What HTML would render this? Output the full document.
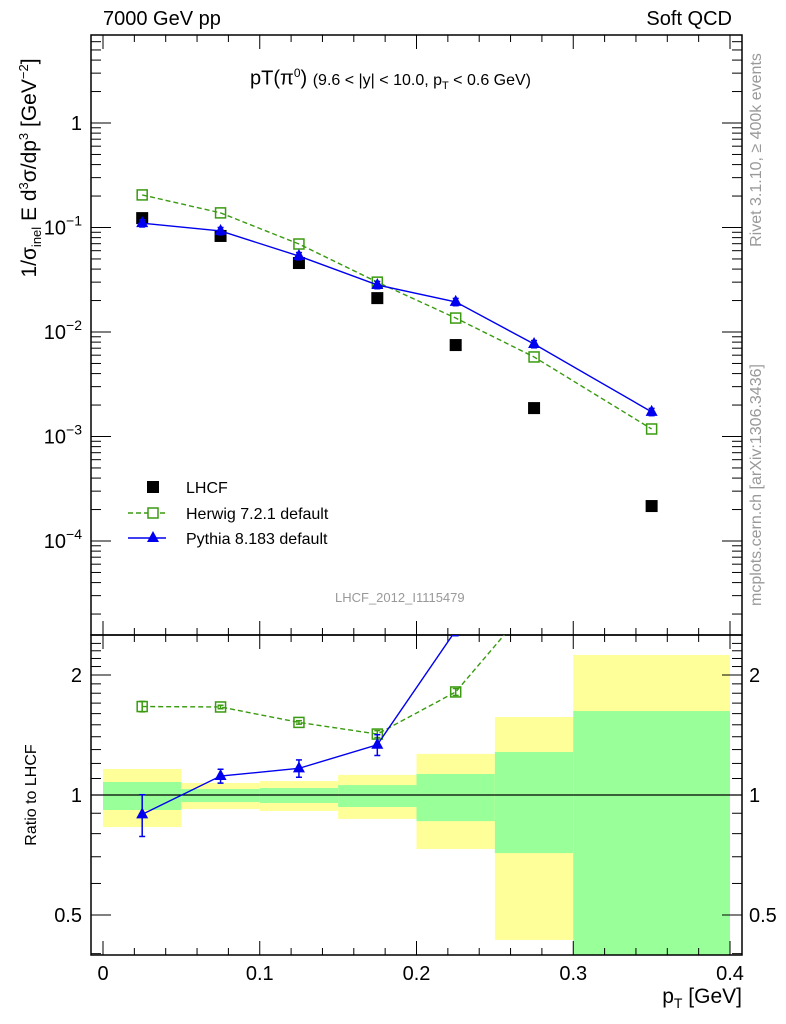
<!DOCTYPE html>
<html><head><meta charset="utf-8"><style>
body{margin:0;background:#fff}
svg{display:block;font-family:"Liberation Sans",sans-serif}
</style></head><body>
<svg id="c" width="786" height="1024" xmlns="http://www.w3.org/2000/svg"></svg>
<script>
const xCenters=[0.025,0.075,0.125,0.175,0.225,0.275,0.35];
const binEdges=[0,0.05,0.1,0.15,0.2,0.25,0.3,0.4];
const lhcf=[0.123,0.083,0.0457,0.0211,0.0075,0.00187,0.000216];
const herwig=[0.205,0.138,0.0695,0.030,0.0136,0.00577,0.00118];
const pythia=[0.110,0.0926,0.0533,0.0282,0.0194,0.00767,0.00172];
const pythiaRelErr=[0.12,0.04,0.05,0.06,0.03,0.08,0.12];
const herwigRelErr=[0.03,0.01,0.01,0.02,0.02,0.02,0.02];
const bandYelHi=[1.162,1.072,1.084,1.123,1.268,1.569,2.245];
const bandYelLo=[0.831,0.922,0.912,0.871,0.732,0.433,0.3];
const bandGrnHi=[1.078,1.035,1.041,1.059,1.129,1.282,1.624];
const bandGrnLo=[0.917,0.960,0.955,0.933,0.860,0.715,0.3];
const xTicks=[0,0.1,0.2,0.3,0.4];
const topDecades=[0,-1,-2,-3,-4];
const ratioTicks=[0.5,1,2];

const NS="http://www.w3.org/2000/svg";
const svg=document.getElementById('c');
function el(t,a,p){const e=document.createElementNS(NS,t);for(const k in a)e.setAttribute(k,a[k]);(p||svg).appendChild(e);return e;}
const L=91,R=742,T1=35,B1=635,B2=955;
const X=v=>103+(v/0.4)*627;
const Y1=v=>123-Math.log10(v)*104.5;
const Y2=v=>795-Math.log10(v)*398.7;
const cl2=v=>Math.max(635,Math.min(955,v));

for(let i=0;i<xCenters.length;i++){
 const r=el('rect',{x:X(binEdges[i]),width:X(binEdges[i+1])-X(binEdges[i]),y:cl2(Y2(bandYelHi[i])),height:cl2(Y2(bandYelLo[i]))-cl2(Y2(bandYelHi[i])),fill:'#ffff99'});
 
 
 const g=el('rect',{x:X(binEdges[i]),width:X(binEdges[i+1])-X(binEdges[i]),y:cl2(Y2(bandGrnHi[i])),height:cl2(Y2(bandGrnLo[i]))-cl2(Y2(bandGrnHi[i])),fill:'#99ff99'});
 
 
}
el('line',{x1:L,x2:R,y1:Y2(1),y2:Y2(1),stroke:'#000','stroke-width':1.3});

const f1=el('rect',{x:L,y:T1,width:R-L,height:B1-T1,fill:'none',stroke:'#000','stroke-width':1.5});

const f2=el('rect',{x:L,y:B1,width:R-L,height:B2-B1,fill:'none',stroke:'#000','stroke-width':1.5});


for(let v=0;v<=0.4001;v+=0.02){
 const maj=Math.abs(v*10-Math.round(v*10))<1e-6;const len=maj?14:7;const x=X(v);
 for(const [t,b] of [[T1,B1],[B1,B2]]){
  el('line',{x1:x,x2:x,y1:b,y2:b-len,stroke:'#000','stroke-width':1});
  el('line',{x1:x,x2:x,y1:t,y2:t+len,stroke:'#000','stroke-width':1});
 }
}
xTicks.forEach(v=>{const t=el('text',{x:X(v),y:980,'font-size':20,'text-anchor':'middle'});t.textContent=String(v);
 });

for(let d=-5;d<=0;d++){for(let m=1;m<10;m++){const v=m*Math.pow(10,d);const y=Y1(v);if(y<T1||y>B1)continue;const len=m==1?20:10;
 el('line',{x1:L,x2:L+len,y1:y,y2:y,stroke:'#000'});el('line',{x1:R,x2:R-len,y1:y,y2:y,stroke:'#000'});}}
topDecades.forEach(d=>{const y=Y1(Math.pow(10,d));const t=el('text',{x:82,y:y+7,'font-size':20,'text-anchor':'end'});
 if(d===0)t.textContent='1';else{t.textContent='10';const s=el('tspan',{dy:-9,'font-size':14},t);s.textContent=String(d).replace('-','−');}
 });

for(let v=0.4;v<=2.5;v+=0.1){const y=Y2(v);if(y<B1||y>B2)continue;const maj=ratioTicks.some(r=>Math.abs(r-v)<1e-6);const len=maj?20:10;
 el('line',{x1:L,x2:L+len,y1:y,y2:y,stroke:'#000'});el('line',{x1:R,x2:R-len,y1:y,y2:y,stroke:'#000'});}
ratioTicks.forEach(v=>{const y=Y2(v)+7;
 const a=el('text',{x:82,y:y,'font-size':20,'text-anchor':'end'});a.textContent=String(v);
 
 const b=el('text',{x:749,y:y,'font-size':20}); b.textContent=String(v);
 });

const defs=el('defs',{});const cp=el('clipPath',{id:'rc'},defs);el('rect',{x:L,y:B1,width:R-L,height:B2-B1},cp);
const ct=el('clipPath',{id:'tc'},defs);el('rect',{x:L,y:T1,width:R-L,height:B1-T1},ct);

function series(vals,color,dash,marker,yf,clip,name,errs){
 const g=el('g',{'clip-path':`url(#${clip})`});
 
 const pts=vals.map((v,i)=>X(xCenters[i])+','+yf(v)).join(' ');
 el('polyline',{points:pts,fill:'none',stroke:color,'stroke-width':1.4,'stroke-dasharray':dash||'none'},g);
 vals.forEach((v,i)=>{const x=X(xCenters[i]),y=yf(v);
  if(errs){const e=errs[i];const y1=yf(v*(1+e)),y2=yf(v*(1-e));
   el('line',{x1:x,x2:x,y1:y1,y2:y2,stroke:color,'stroke-width':1.5},g);
   el('line',{x1:x-3,x2:x+3,y1:y1,y2:y1,stroke:color,'stroke-width':1.5},g);
   el('line',{x1:x-3,x2:x+3,y1:y2,y2:y2,stroke:color,'stroke-width':1.5},g);}
  let m;
  if(marker==='sq')m=el('rect',{x:x-5,y:y-5,width:10,height:10,fill:'#fff','fill-opacity':0,stroke:color,'stroke-width':1.5},g);
  else if(marker==='tri')m=el('polygon',{points:`${x},${y-7} ${x-6},${y+4} ${x+6},${y+4}`,fill:color},g);
  else m=el('rect',{x:x-6,y:y-6,width:12,height:12,fill:color},g);
  
 });
}
(function(){const g=el('g',{'clip-path':'url(#tc)'});
 lhcf.forEach((v,i)=>{const m=el('rect',{x:X(xCenters[i])-6,y:Y1(v)-6,width:12,height:12,fill:'#000'},g);
 });})();
series(herwig,'#3a9a10','5,3','sq',Y1,'tc','herwig-series',null);
series(pythia,'#0000ee',null,'tri',Y1,'tc','pythia-series',pythia.map(()=>0.08));
series(herwig.map((v,i)=>v/lhcf[i]),'#3a9a10','5,3','sq',Y2,'rc','herwig-ratio',herwigRelErr);
series(pythia.map((v,i)=>v/lhcf[i]),'#0000ee',null,'tri',Y2,'rc','pythia-ratio',pythiaRelErr);

const lg=el('g',{});
el('rect',{x:147,y:481,width:12,height:12,fill:'#000'},lg);
el('line',{x1:128,x2:166,y1:513,y2:513,stroke:'#3a9a10','stroke-width':1.4,'stroke-dasharray':'5,3'},lg);
el('rect',{x:148,y:508,width:10,height:10,fill:'#fff',stroke:'#3a9a10','stroke-width':1.5},lg);
el('line',{x1:128,x2:166,y1:538,y2:538,stroke:'#0000ee','stroke-width':1.4},lg);
el('polygon',{points:'153,531 147,542 159,542',fill:'#0000ee'},lg);
[['LHCF',493],['Herwig 7.2.1 default',519],['Pythia 8.183 default',544]].forEach(([s,y])=>{const t=el('text',{x:186,y:y,'font-size':16},lg);t.textContent=s;
 });
</script>
<div style="position:absolute;left:0;top:0;width:786px;height:1024px;pointer-events:none;font-family:'Liberation Sans',sans-serif">
<div style="position:absolute;left:103px;top:8px;font-size:20px">7000 GeV pp</div>
<div style="position:absolute;right:54px;top:8px;font-size:20px">Soft QCD</div>
<div style="position:absolute;left:250px;top:66px;font-size:20px;white-space:nowrap">pT(π<sup style="font-size:12px">0</sup>) <span style="font-size:16px">(9.6 &lt; |y| &lt; 10.0, p<sub style="font-size:11px">T</sub> &lt; 0.6 GeV)</span></div>
<div style="position:absolute;left:335px;top:590px;font-size:13px;color:#999">LHCF_2012_I1115479</div>
<div style="position:absolute;left:30px;top:168px;width:0;height:0"><div style="position:absolute;transform:translate(-50%,-50%) rotate(-90deg);font-size:21px;white-space:nowrap">1/σ<sub style="font-size:13px">inel</sub> E d<sup style="font-size:13px">3</sup>σ/dp<sup style="font-size:13px">3</sup> [GeV<sup style="font-size:13px">−2</sup>]</div></div>
<div style="position:absolute;left:32px;top:795px;width:0;height:0"><div style="position:absolute;transform:translate(-50%,-50%) rotate(-90deg);font-size:16px;white-space:nowrap">Ratio to LHCF</div></div>
<div style="position:absolute;left:757px;top:150px;width:0;height:0"><div style="position:absolute;transform:translate(-50%,-50%) rotate(-90deg);font-size:16px;color:#999;white-space:nowrap">Rivet 3.1.10, ≥ 400k events</div></div>
<div style="position:absolute;left:757px;top:485px;width:0;height:0"><div style="position:absolute;transform:translate(-50%,-50%) rotate(-90deg);font-size:16px;color:#999;white-space:nowrap">mcplots.cern.ch [arXiv:1306.3436]</div></div>
<div style="position:absolute;right:44px;top:985px;font-size:21px">p<sub style="font-size:14px">T</sub> [GeV]</div>
</div>
</body></html>
